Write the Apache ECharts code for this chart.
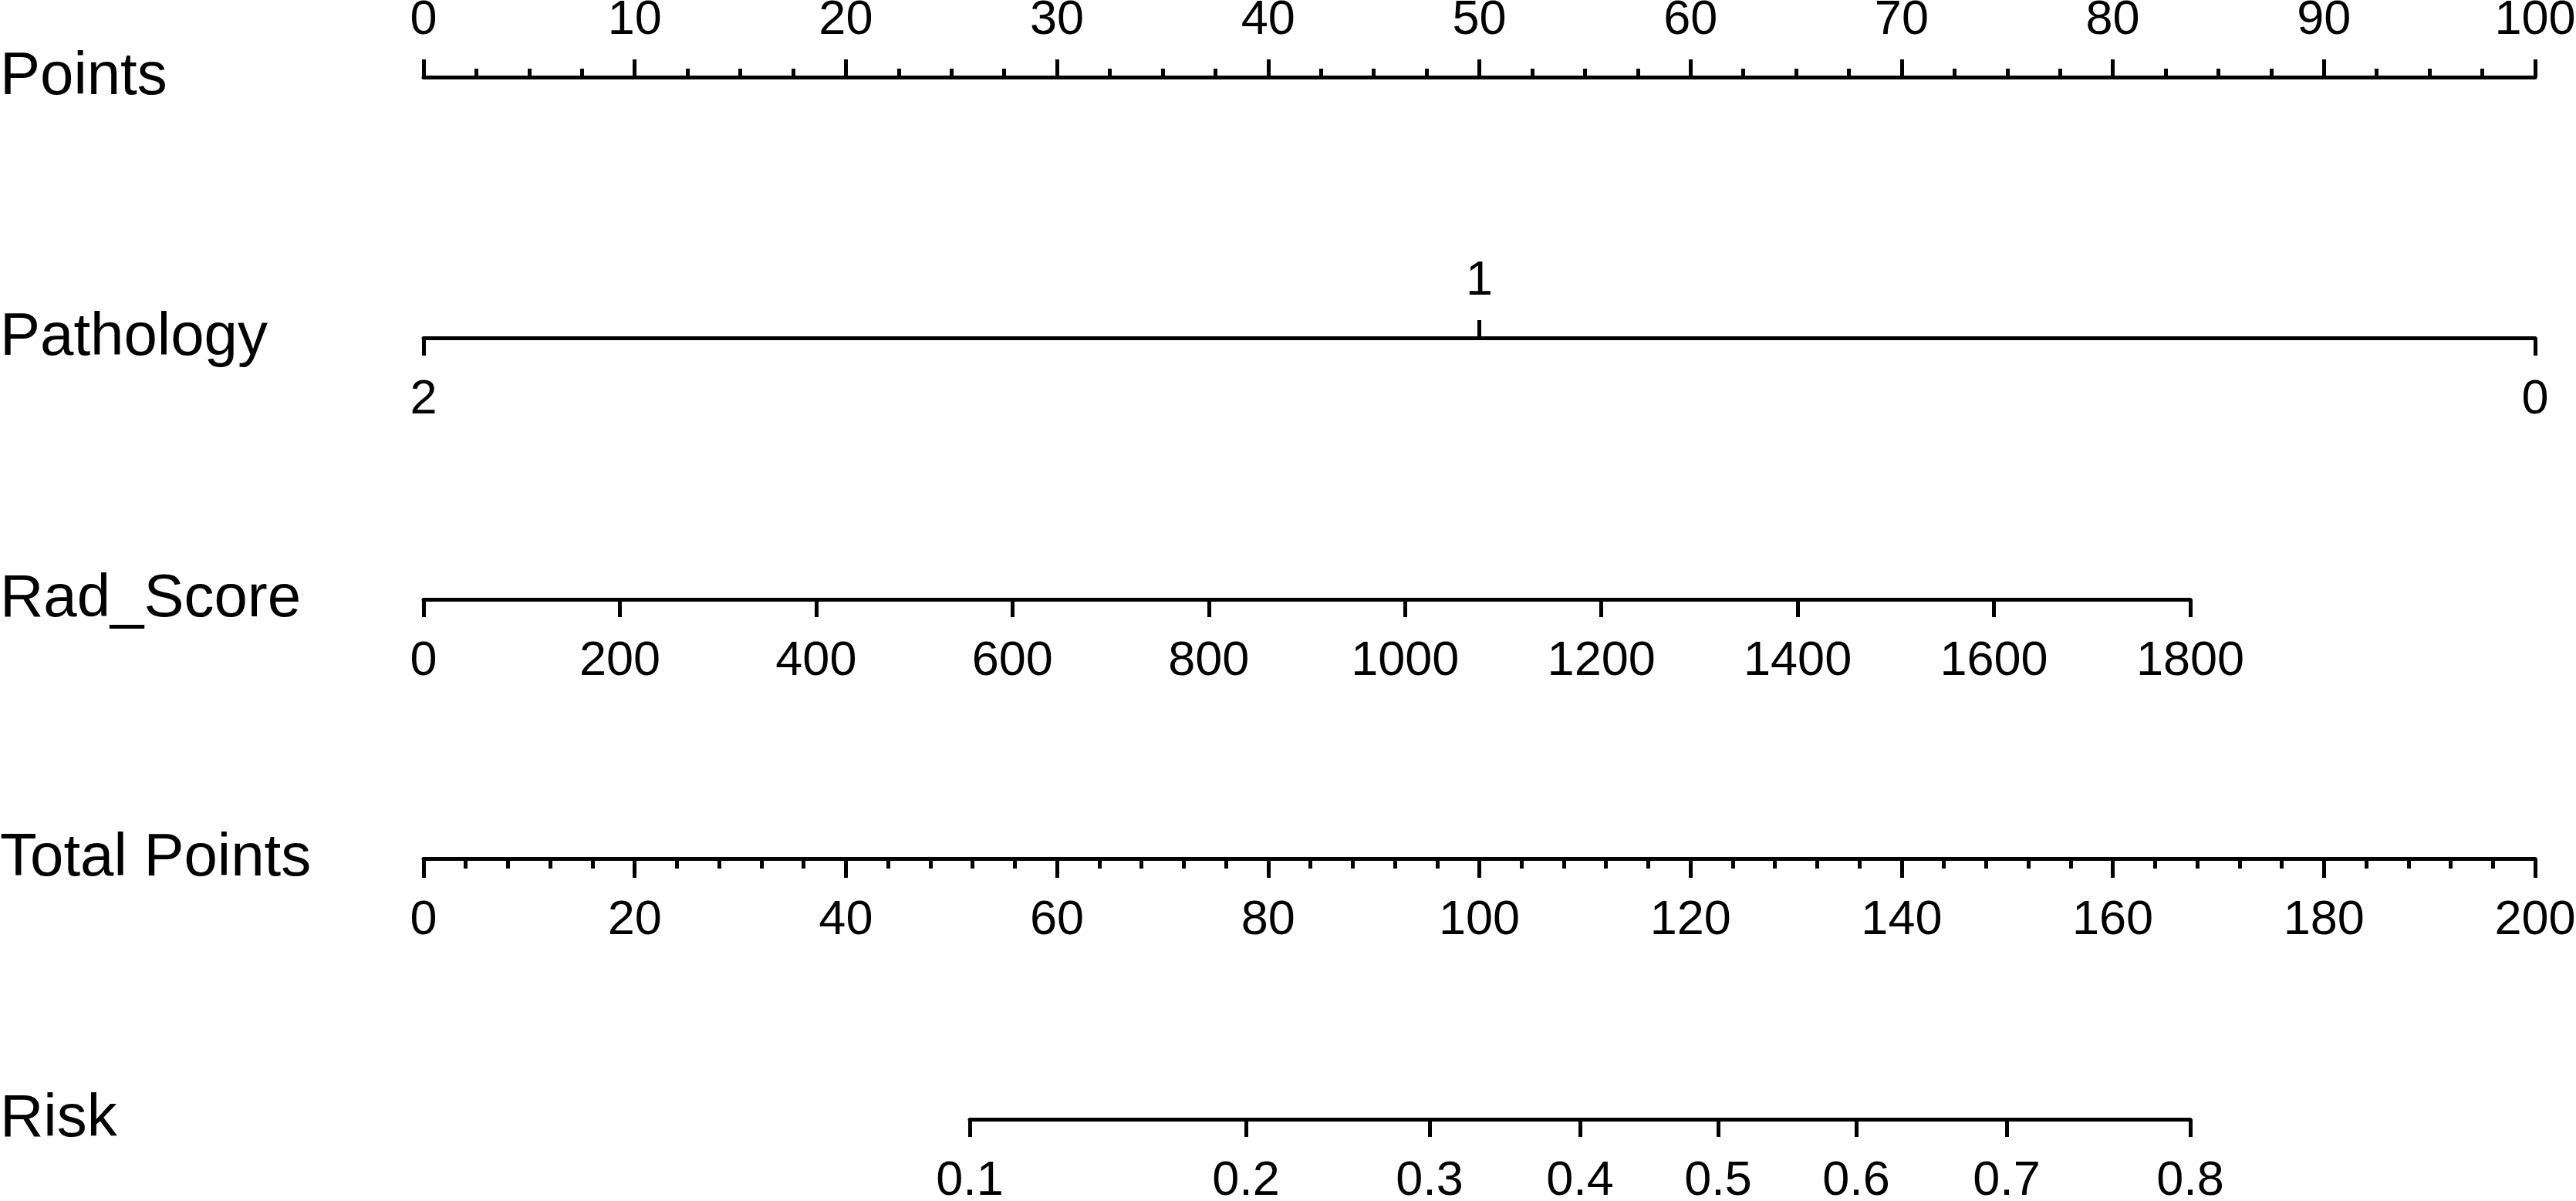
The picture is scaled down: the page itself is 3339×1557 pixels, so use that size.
<!DOCTYPE html>
<html>
<head>
<meta charset="utf-8">
<script src="https://cdn.jsdelivr.net/npm/echarts@6/dist/echarts.min.js"></script>
<style>
html,body{margin:0;padding:0;background:#fff;}
#chart{width:3339px;height:1557px;}
</style>
</head>
<body>
<div id="chart"></div>
<script>
// ---- data ----
const rowNames = ['Points', 'Pathology', 'Rad_Score', 'Total Points', 'Risk'];
const pointsRange = [0, 100];
const pointsStep = 10;
const pathologyAbove = [1];
const pathologyBelow = [0, 2];
const pathologyRange = [0, 2];
const radScoreTicks = [0, 200, 400, 600, 800, 1000, 1200, 1400, 1600, 1800];
const totalPointsRange = [0, 200];
const totalPointsStep = 20;
const riskTicks = [0.1, 0.2, 0.3, 0.4, 0.5, 0.6, 0.7, 0.8];

// ---- style ----
const FONT = 'Liberation Sans, Arial, Helvetica, sans-serif';
const TICK_FS = 63;
const NAME_FS = 78;
const LW = 5;
const rowY = [100, 438, 777, 1113, 1451];
const logit = p => Math.log(p / (1 - p));
const invLogit = v => 1 / (1 + Math.exp(-v));
const plain = v => String(Math.round(v * 1000) / 1000);

function grid(top, left, right) {
  return {top: top, left: left, right: right, height: 0, outerBoundsMode: 'none', containLabel: false};
}
const lineStyle = {color: '#000', width: LW, cap: 'round'};
function baseAxis(gi, pos, extra) {
  const ax = {
    type: 'value', gridIndex: gi, position: pos,
    axisLine: {show: true, onZero: false, lineStyle: lineStyle},
    axisTick: {show: true, length: 23, inside: false, lineStyle: {color: '#000', width: LW}},
    axisLabel: {show: true, color: '#000', fontFamily: FONT, fontSize: TICK_FS, formatter: plain,
      margin: pos === 'top' ? 42 : 49, showMinLabel: true, showMaxLabel: true, hideOverlap: false},
    splitLine: {show: false}
  };
  return Object.assign(ax, extra);
}

const grids = [
  grid(rowY[0], 549, 53),
  grid(rowY[1], 549, 53),
  grid(rowY[2], 549, 500),
  grid(rowY[3], 549, 53),
  grid(rowY[4], 1257, 500)
];

const xAxes = [];
// Points
xAxes.push(baseAxis(0, 'top', {
  min: pointsRange[0], max: pointsRange[1], interval: pointsStep,
  minorTick: {show: true, splitNumber: 4, length: 11, lineStyle: {color: '#000', width: LW}}
}));
// Pathology (bottom labels 2 and 0)
const pathBottom = baseAxis(1, 'bottom', {min: pathologyRange[0], max: pathologyRange[1], inverse: true});
pathBottom.axisTick.customValues = pathologyBelow;
pathBottom.axisLabel.customValues = pathologyBelow;
xAxes.push(pathBottom);
// Pathology (top label 1)
const pathTop = baseAxis(1, 'top', {min: pathologyRange[0], max: pathologyRange[1], inverse: true});
pathTop.axisLine = {show: false};
pathTop.axisTick.customValues = pathologyAbove;
pathTop.axisLabel.customValues = pathologyAbove;
xAxes.push(pathTop);
// Rad_Score
const rad = baseAxis(2, 'bottom', {min: radScoreTicks[0], max: radScoreTicks[radScoreTicks.length - 1]});
rad.axisTick.customValues = radScoreTicks;
rad.axisLabel.customValues = radScoreTicks;
xAxes.push(rad);
// Total Points
xAxes.push(baseAxis(3, 'bottom', {
  min: totalPointsRange[0], max: totalPointsRange[1], interval: totalPointsStep,
  minorTick: {show: true, splitNumber: 5, length: 13, lineStyle: {color: '#000', width: LW}},
  axisTick: {show: true, length: 25, lineStyle: {color: '#000', width: LW}}
}));
// Risk (logit scale)
const riskL = riskTicks.map(logit);
const risk = baseAxis(4, 'bottom', {min: riskL[0], max: riskL[riskL.length - 1]});
risk.axisTick.customValues = riskL;
risk.axisLabel.customValues = riskL;
risk.axisLabel.formatter = v => String(Math.round(invLogit(v) * 10) / 10);
xAxes.push(risk);

const yAxes = grids.map((g, i) => ({type: 'value', gridIndex: i, show: false, min: 0, max: 1}));

const graphics = rowNames.map((name, i) => ({
  type: 'text', x: 0, y: rowY[i],
  style: {text: name, fill: '#000', fontSize: NAME_FS, fontFamily: FONT,
    align: 'left', verticalAlign: 'middle'}
}));

const chart = echarts.init(document.getElementById('chart'), null, {renderer: 'canvas'});
chart.setOption({
  animation: false,
  backgroundColor: '#fff',
  grid: grids,
  xAxis: xAxes,
  yAxis: yAxes,
  graphic: graphics,
  series: []
});
</script>
</body>
</html>
